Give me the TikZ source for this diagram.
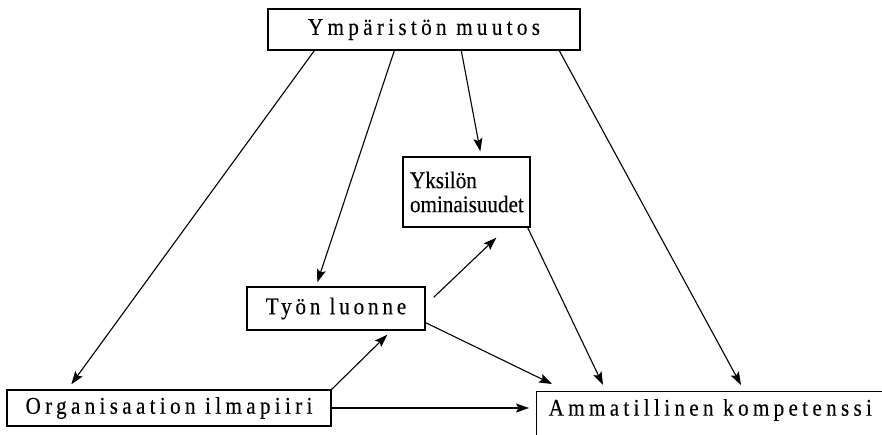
\documentclass[tikz,border=0pt]{standalone}
\usepackage{fontspec}
\setmainfont{Liberation Serif}[FakeStretch=0.88, FakeBold=0.3, LetterSpace=18]
\usetikzlibrary{arrows.meta}
\tikzset{
  box/.style={draw=black, line width=1.4pt, inner sep=0pt, font=\fontsize{24}{24}\selectfont},
  arr/.style={line width=1.1pt, -{Stealth[length=13pt, width=9pt, inset=2.5pt]}}
}
\begin{document}
\begin{tikzpicture}[x=1pt, y=-1pt]
			\useasboundingbox (0,0) rectangle (882,434);
			\clip (0,0) rectangle (882,434);
			% laatikot
			\node[box, minimum width=312pt, minimum height=41pt] (ymp) at (424,29.5) {Ympäristön muutos};
			\node[box, text width=113pt, align=left, inner xsep=7pt, minimum height=70pt] (yks) at (466.5,192) {\addfontfeatures{LetterSpace=0}Yksilön\\ominaisuudet};
			\node[box, minimum width=178pt, minimum height=43pt] (tyo) at (336,308.5) {\addfontfeatures{LetterSpace=16}Työn luonne};
			\node[box, minimum width=324pt, minimum height=36pt] (org) at (169,408) {Organisaation ilmapiiri};
			\node[box, anchor=north west, inner xsep=12pt, inner ysep=4pt, text height=20pt, text depth=40pt] (amm) at (536,391) {Ammatillinen kompetenssi};
			
			% nuolet ympäristön muutoksesta
			\draw[arr] ([xshift=47pt]ymp.south west) -- ([xshift=65pt, yshift=5pt]org.north west);
			\draw[arr] ([xshift=127pt]ymp.south west) -- ([xshift=71pt, yshift=4pt]tyo.north west);
			\draw[arr] ([xshift=194pt]ymp.south west) -- ([xshift=78pt, yshift=5pt]yks.north west);
			\draw[arr] ([xshift=292pt]ymp.south west) -- ([xshift=205pt, yshift=6pt]amm.north west);
			
			% muut nuolet
			\draw[arr] ([xshift=8pt, yshift=-11pt]tyo.north east) -- ([xshift=94pt, yshift=-10pt]yks.south west);
			\draw[arr] ([yshift=8pt]tyo.south east) -- ([xshift=16pt, yshift=7pt]amm.north west);
			\draw[arr] ([xshift=-3pt]yks.south east) -- ([xshift=67pt, yshift=6pt]amm.north west);
			\draw[arr] (org.north east) -- ([xshift=141pt, yshift=-4pt]tyo.south west);
			\draw[arr, shorten >=7pt] (org.east) -- (org.east -| amm.west);
		\end{tikzpicture}
\end{document}
